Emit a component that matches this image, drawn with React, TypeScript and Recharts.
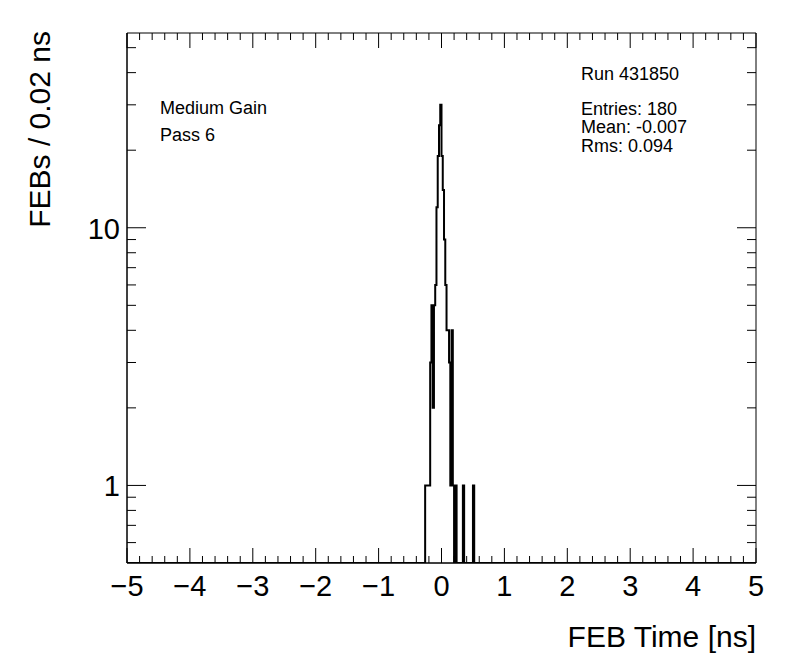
import { LineChart, Line, XAxis, YAxis, ReferenceArea } from 'recharts'

// FEB time histogram, 0.02 ns bins, only non-empty bins listed
const binLow = [-0.26, -0.24, -0.22, -0.2, -0.18, -0.16, -0.14, -0.12, -0.1, -0.08, -0.06, -0.04, -0.02, 0, 0.02, 0.04, 0.06, 0.08, 0.1, 0.12, 0.14, 0.16, 0.18, 0.22, 0.34, 0.5]
const binCount = [1, 1, 1, 1, 3, 5, 2, 5, 6, 12, 19, 25, 30, 19, 14, 9, 6, 4, 4, 3, 1, 4, 1, 1, 1, 1]

const xMajor = [-5, -4, -3, -2, -1, 0, 1, 2, 3, 4, 5]
const yTicks = [0.6, 0.7, 0.8, 0.9, 1, 2, 3, 4, 5, 6, 7, 8, 9, 10, 20, 30, 40, 50]
const yLabeled = [1, 10]

const infoLeft = ['Medium Gain', 'Pass 6']
const infoRight = ['Run 431850', 'Entries: 180', 'Mean: -0.007', 'Rms: 0.094']

const Y_MIN = 0.5
const Y_MAX = 57
const NBINS = 500

const P = { left: 127, top: 33, right: 756, bottom: 563 }
const FONT = '"Liberation Sans", Arial, Helvetica, sans-serif'

// step table: one point per bin low edge, empty bins sit on the floor
const countByBin: Record<number, number> = {}
binLow.forEach((b, i) => { countByBin[Math.round((b + 5) * 50)] = binCount[i] })
const data: { t: number, v: number }[] = []
for (let i = 0; i <= NBINS; i++) {
  const c = countByBin[i] || 0
  data.push({ t: -5 + i * 0.02, v: c > 0 ? c : Y_MIN })
}

const xTicks: number[] = []
for (let i = 0; i <= 50; i++) xTicks.push(Math.round((-5 + i * 0.2) * 10) / 10)

const fmt = (v: number) => (v < 0 ? '\u2212' + Math.abs(v) : String(v))

function XTick(props: any) {
  const { x, payload } = props
  const v = payload.value
  const major = xMajor.includes(v)
  const len = major ? 15 : 7
  return (
    <g>
      <line x1={x} x2={x} y1={P.bottom} y2={P.bottom - len} stroke="#000" />
      <line x1={x} x2={x} y1={P.top} y2={P.top + len} stroke="#000" />
      {major && <text x={x} y={P.bottom + 33} textAnchor="middle" fontSize={29} fontFamily={FONT} fill="#000">{fmt(v)}</text>}
    </g>
  )
}

function YTick(props: any) {
  const { y, payload } = props
  const v = payload.value
  const major = yLabeled.includes(v)
  const len = major ? 19 : 9
  return (
    <g>
      <line x1={P.left} x2={P.left + len} y1={y} y2={y} stroke="#000" />
      <line x1={P.right} x2={P.right - len} y1={y} y2={y} stroke="#000" />
      {major && <text x={P.left - 7} y={y + 11} textAnchor="end" fontSize={29} fontFamily={FONT} fill="#000">{v}</text>}
    </g>
  )
}

export default function App() {
  return (
    <div style={{ position: 'absolute', left: 0, top: 0, width: 796, height: 672, background: '#fff' }}>
      <LineChart width={796} height={672} data={data} margin={{ top: P.top, right: 796 - P.right, left: P.left - 60, bottom: 672 - P.bottom - 60 }}>
        <XAxis dataKey="t" type="number" domain={[-5, 5]} ticks={xTicks} interval={0} tickLine={false} tickSize={0} tickMargin={0} height={60} axisLine={{ stroke: '#000' }} tick={XTick} allowDataOverflow />
        <YAxis type="number" scale="log" domain={[Y_MIN, Y_MAX]} ticks={yTicks} interval={0} tickLine={false} tickSize={0} tickMargin={0} width={60} axisLine={{ stroke: '#000' }} tick={YTick} allowDataOverflow />
        <ReferenceArea x1={-5} x2={5} y1={Y_MIN} y2={Y_MAX} fill="none" stroke="#000" strokeWidth={1} ifOverflow="visible" />
        <Line type="stepAfter" dataKey="v" stroke="#000" strokeWidth={2} dot={false} isAnimationActive={false} />
      </LineChart>
      <svg width={796} height={672} style={{ position: 'absolute', left: 0, top: 0, pointerEvents: 'none' }} fontFamily={FONT}>
        {infoLeft.map((s, i) => (
          <text key={s} x={160} y={114 + i * 27} fontSize={18}>{s}</text>
        ))}
        {infoRight.map((s, i) => (
          <text key={s} x={581} y={i === 0 ? 80 : 115 + (i - 1) * 18.3} fontSize={18}>{s}</text>
        ))}
        <text x={756} y={647} textAnchor="end" fontSize={30}>FEB Time [ns]</text>
        <text x={50} y={31} textAnchor="end" fontSize={30} transform="rotate(-90 50 31)">FEBs / 0.02 ns</text>
      </svg>
    </div>
  )
}
